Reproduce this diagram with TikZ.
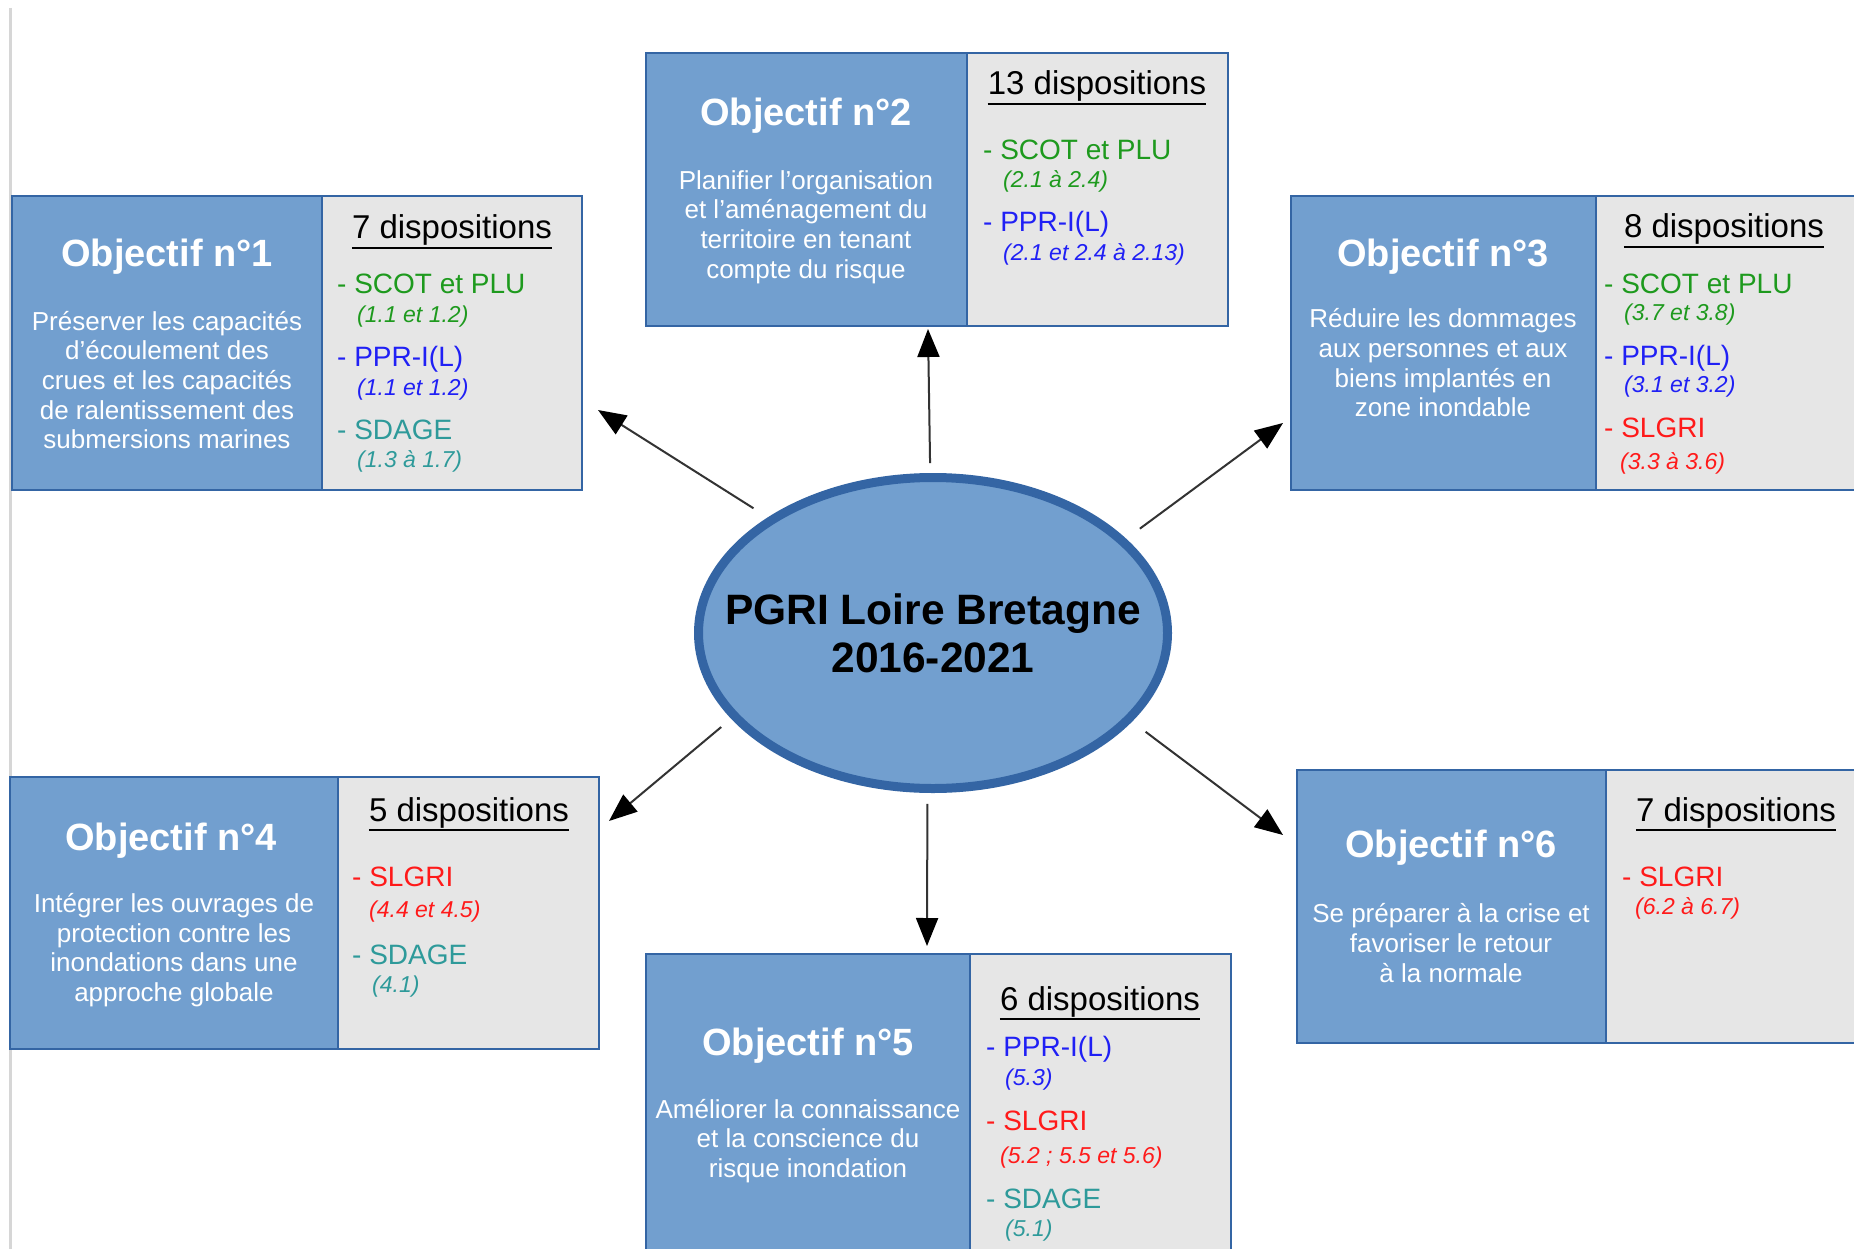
\documentclass[tikz,border=0pt]{standalone}
\usepackage{fontspec}
\setmainfont{Liberation Sans}
\usepackage{xcolor}
\usepackage{tikz}
\usetikzlibrary{arrows.meta,shapes.geometric,positioning}
\definecolor{objfill}{HTML}{729FCF}
\definecolor{objline}{HTML}{3465A4}
\definecolor{dispfill}{HTML}{E6E6E6}
\definecolor{vert}{HTML}{1E9A1E}
\definecolor{bleu}{HTML}{2020F5}
\definecolor{rouge}{HTML}{FF1A1A}
\definecolor{sarcelle}{HTML}{2E9A9A}
\definecolor{fleche}{HTML}{333333}
\definecolor{margegris}{HTML}{D6D6D6}
\tikzset{
  objbox/.style={draw=objline, fill=objfill, line width=2pt, outer sep=0pt, inner sep=0pt, anchor=north west},
  dispbox/.style={draw=objline, fill=dispfill, line width=2pt, outer sep=0pt, inner sep=0pt},
  titre/.style={text=white, font=\bfseries\fontsize{38}{45}\selectfont, inner sep=0pt, anchor=base},
  desc/.style={text=white, font=\fontsize{26}{29.7}\selectfont, align=center, inner sep=0pt},
  nbdisp/.style={text=black, font=\fontsize{33}{39}\selectfont, inner sep=0pt, anchor=base},
  souligne/.style={draw=black, line width=2pt},
  outil/.style={font=\fontsize{28}{33}\selectfont, inner sep=0pt, anchor=base west},
  plage/.style={font=\itshape\fontsize{23}{27}\selectfont, inner sep=0pt, anchor=base west},
  centre/.style={ellipse, draw=objline, fill=objfill, line width=9pt, minimum width=469pt, minimum height=311pt, inner sep=0pt},
  centretxt/.style={text=black, font=\bfseries\fontsize{42.5}{48}\selectfont, align=center, inner sep=0pt},
  arr/.style={draw=fleche, line width=2pt, -{Triangle[length=28pt,width=22pt,color=black]}},
  marge/.style={draw=margegris, line width=3pt},
}

\begin{document}
\begin{tikzpicture}[x=1pt,y=-1pt]
\useasboundingbox (0,0) rectangle (1854,1249);
\fill[white] (0,0) rectangle (1854,1249);
\draw[marge] (10,8) -- (10,1249);

% objectif 1
\node[objbox, minimum width=310pt, minimum height=294pt] (obj1) at (12,196) {};
\node[dispbox, minimum width=260pt, minimum height=294pt, right=0pt of obj1] (dis1) {};
\node[titre] (titre1) at (167,266) {Objectif n°1};
\node[desc] (desc1) at (167,380) {Préserver les capacités\\d’écoulement des\\crues et les capacités\\de ralentissement des\\submersions marines};
\node[nbdisp] (nb1) at (452,239) {7 dispositions};
\draw[souligne] ([yshift=-2pt]nb1.south west) -- ([yshift=-2pt]nb1.south east);
\node[outil, text=vert] (scot1) at (337,294) {- SCOT et PLU};
\node[plage, text=vert] (scot1r) at (357,322) {(1.1 et 1.2)};
\node[outil, text=bleu] (ppr1) at (337,366) {- PPR-I(L)};
\node[plage, text=bleu] (ppr1r) at (357,395) {(1.1 et 1.2)};
\node[outil, text=sarcelle] (sdage1) at (337,439) {- SDAGE};
\node[plage, text=sarcelle] (sdage1r) at (357,467) {(1.3 à 1.7)};

% objectif 2
\node[objbox, minimum width=321pt, minimum height=273pt] (obj2) at (646,53) {};
\node[dispbox, minimum width=261pt, minimum height=273pt, right=0pt of obj2] (dis2) {};
\node[titre] (titre2) at (806,126) {Objectif n°2};
\node[desc] (desc2) at (806,227) {Planifier l’organisation\\et l’aménagement du\\territoire en tenant\\compte du risque};
\node[nbdisp] (nb2) at (1097,95) {13 dispositions};
\draw[souligne] ([yshift=-2pt]nb2.south west) -- ([yshift=-2pt]nb2.south east);
\node[outil, text=vert] (scot2) at (983,160) {- SCOT et PLU};
\node[plage, text=vert] (scot2r) at (1003,188) {(2.1 à 2.4)};
\node[outil, text=bleu] (ppr2) at (983,232) {- PPR-I(L)};
\node[plage, text=bleu] (ppr2r) at (1003,261) {(2.1 et 2.4 à 2.13)};

% objectif 3
\node[objbox, minimum width=305pt, minimum height=294pt] (obj3) at (1291,196) {};
\node[dispbox, minimum width=264pt, minimum height=294pt, right=0pt of obj3] (dis3) {};
\node[titre] (titre3) at (1443,266) {Objectif n°3};
\node[desc] (desc3) at (1443,363) {Réduire les dommages\\aux personnes et aux\\biens implantés en\\zone inondable};
\node[nbdisp] (nb3) at (1724,238) {8 dispositions};
\draw[souligne] ([yshift=-2pt]nb3.south west) -- ([yshift=-2pt]nb3.south east);
\node[outil, text=vert] (scot3) at (1604,293) {- SCOT et PLU};
\node[plage, text=vert] (scot3r) at (1624,320) {(3.7 et 3.8)};
\node[outil, text=bleu] (ppr3) at (1604,365) {- PPR-I(L)};
\node[plage, text=bleu] (ppr3r) at (1624,392) {(3.1 et 3.2)};
\node[outil, text=rouge] (slgri3) at (1604,437) {- SLGRI};
\node[plage, text=rouge] (slgri3r) at (1620,469) {(3.3 à 3.6)};

% objectif 4
\node[objbox, minimum width=328pt, minimum height=272pt] (obj4) at (10,777) {};
\node[dispbox, minimum width=261pt, minimum height=272pt, right=0pt of obj4] (dis4) {};
\node[titre] (titre4) at (171,850) {Objectif n°4};
\node[desc] (desc4) at (174,950) {Intégrer les ouvrages de\\protection contre les\\inondations dans une\\approche globale};
\node[nbdisp] (nb4) at (469,821) {5 dispositions};
\draw[souligne] ([yshift=-2pt]nb4.south west) -- ([yshift=-2pt]nb4.south east);
\node[outil, text=rouge] (slgri4) at (352,886) {- SLGRI};
\node[plage, text=rouge] (slgri4r) at (369,917) {(4.4 et 4.5)};
\node[outil, text=sarcelle] (sdage4) at (352,964) {- SDAGE};
\node[plage, text=sarcelle] (sdage4r) at (372,992) {(4.1)};

% objectif 5
\node[objbox, minimum width=324pt, minimum height=306pt] (obj5) at (646,954) {};
\node[dispbox, minimum width=261pt, minimum height=306pt, right=0pt of obj5] (dis5) {};
\node[titre] (titre5) at (808,1055) {Objectif n°5};
\node[desc] (desc5) at (808,1141) {Améliorer la connaissance\\et la conscience du\\risque inondation};
\node[nbdisp] (nb5) at (1100,1010) {6 dispositions};
\draw[souligne] ([yshift=-2pt]nb5.south west) -- ([yshift=-2pt]nb5.south east);
\node[outil, text=bleu] (ppr5) at (986,1056) {- PPR-I(L)};
\node[plage, text=bleu] (ppr5r) at (1005,1085) {(5.3)};
\node[outil, text=rouge] (slgri5) at (986,1130) {- SLGRI};
\node[plage, text=rouge] (slgri5r) at (1000,1163) {(5.2 ; 5.5 et 5.6)};
\node[outil, text=sarcelle] (sdage5) at (986,1208) {- SDAGE};
\node[plage, text=sarcelle] (sdage5r) at (1005,1236) {(5.1)};

% objectif 6
\node[objbox, minimum width=309pt, minimum height=273pt] (obj6) at (1297,770) {};
\node[dispbox, minimum width=264pt, minimum height=273pt, right=0pt of obj6] (dis6) {};
\node[titre] (titre6) at (1451,857) {Objectif n°6};
\node[desc] (desc6) at (1451,943) {Se préparer à la crise et\\favoriser le retour\\à la normale};
\node[nbdisp] (nb6) at (1736,821) {7 dispositions};
\draw[souligne] ([yshift=-2pt]nb6.south west) -- ([yshift=-2pt]nb6.south east);
\node[outil, text=rouge] (slgri6) at (1622,886) {- SLGRI};
\node[plage, text=rouge] (slgri6r) at (1635,914) {(6.2 à 6.7)};

% PGRI
\node[centre] (pgri) at (933,633) {};
\node[centretxt] (pgritxt) at (pgri) {PGRI Loire Bretagne\\2016-2021};

\coordinate (tip1) at (598,410);
\coordinate (tip2) at (928,329);
\coordinate (tip3) at (1283,423);
\coordinate (tip4) at (609,821);
\coordinate (tip5) at (927,946);
\coordinate (tip6) at (1283,835);
\draw[arr, shorten <=17pt] (pgri.145) -- (tip1);
\draw[arr, shorten <=10pt] (pgri.91) -- (tip2);
\draw[arr, shorten <=17pt] (pgri.26) -- (tip3);
\draw[arr, shorten <=13pt] (pgri.203) -- (tip4);
\draw[arr, shorten <=11pt] (pgri.268) -- (tip5);
\draw[arr, shorten <=17pt] (pgri.-24) -- (tip6);
\end{tikzpicture}
\end{document}
